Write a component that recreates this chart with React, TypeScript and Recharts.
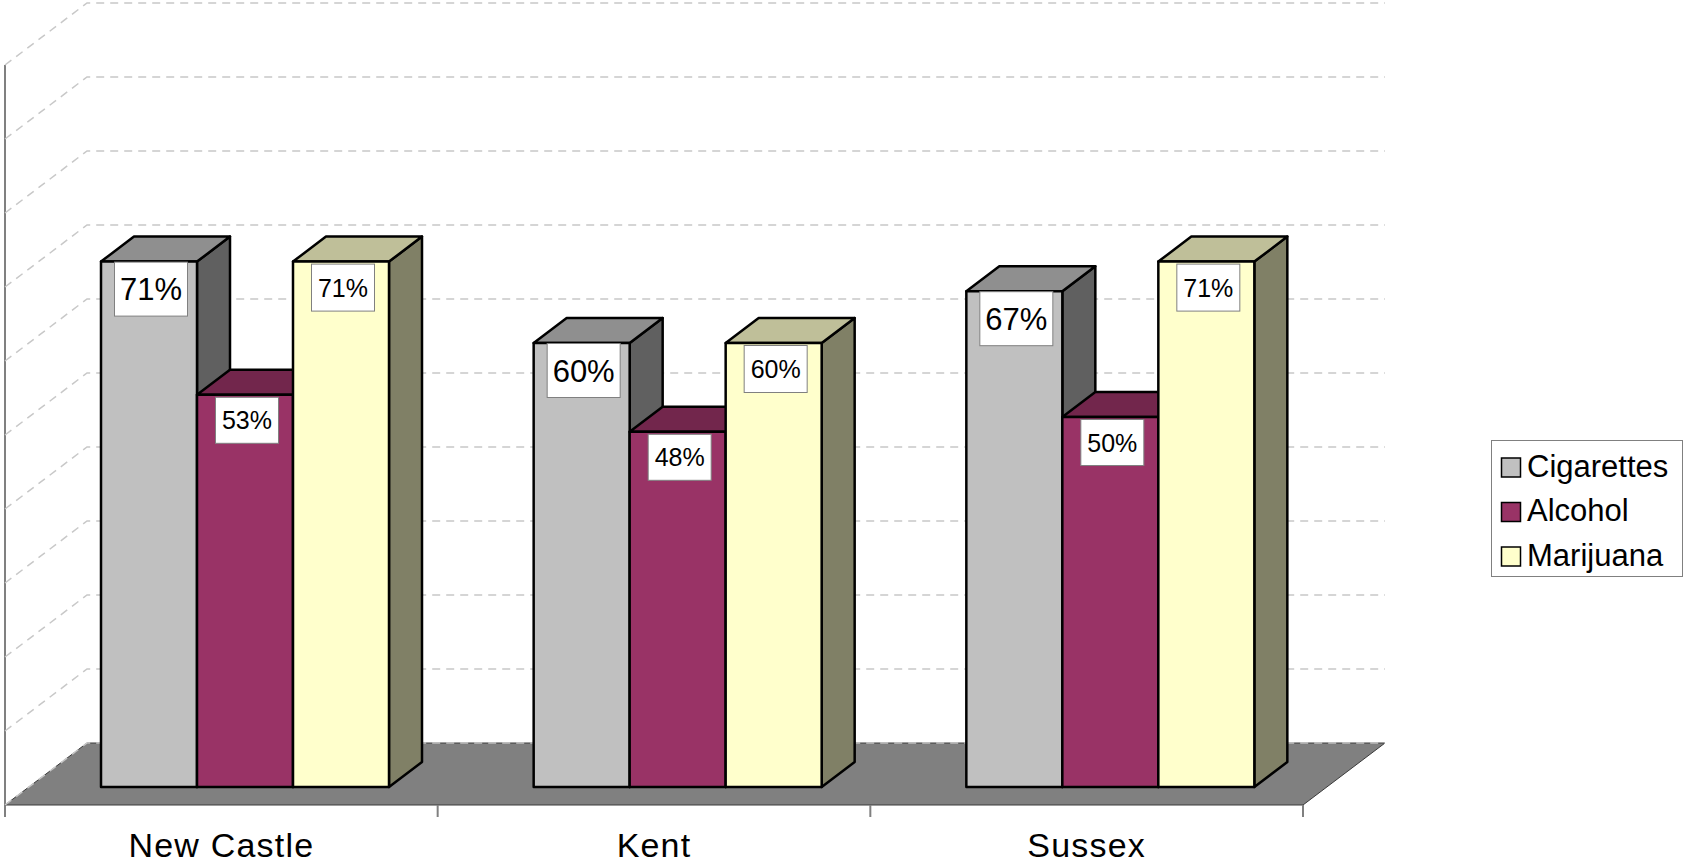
import { Bar, BarChart, CartesianGrid, LabelList, Legend, XAxis, YAxis } from 'recharts';

const categories = ['New Castle', 'Kent', 'Sussex'];
const cigarettes = [71, 60, 67];
const alcohol = [53, 48, 50];
const marijuana = [71, 60, 71];
const valueTicks = [0, 10, 20, 30, 40, 50, 60, 70, 80, 90, 100];

const data = categories.map((name, i) => ({
  name,
  cigarettes: cigarettes[i],
  alcohol: alcohol[i],
  marijuana: marijuana[i],
}));

const W = 1684;
const H = 868;
const MARGIN = { top: 47, right: 357, bottom: 0, left: 29 };
const AXIS_H = 81;
const PLOT_BOTTOM = H - AXIS_H;
const PLOT_RIGHT = W - MARGIN.right;
// floor depth, where the bar fronts sit inside it, and the depth of a bar
const FLOOR_DX = 82;
const FLOOR_DY = 62;
const FRONT_DX = 24;
const FRONT_DY = 18;
const BAR_DX = 33;
const BAR_DY = 25;
const FONT = '"Liberation Sans", Arial, sans-serif';

// back wall + left wall gridline for one value tick (floor drawn with the 0 line)
const wallLine = (props: any) => {
  const { x1, y1, index } = props;
  const fx = x1 - FRONT_DX;
  const fy = y1 + FRONT_DY;
  const bx = fx + FLOOR_DX;
  const by = fy - FLOOR_DY;
  const frontRight = PLOT_RIGHT - FRONT_DX;
  const backRight = frontRight + FLOOR_DX;
  const isFloor = Math.abs(y1 - PLOT_BOTTOM) < 0.5;
  return (
    <g key={`wall-${index}`}>
      {isFloor && (
        <>
          <polygon
            points={`${fx},${fy} ${bx},${by} ${backRight},${by} ${frontRight},${fy}`}
            fill="#808080"
            stroke="#3a3a3a"
            strokeWidth={1}
          />
          <line x1={fx} y1={MARGIN.top + FRONT_DY} x2={fx} y2={fy + 12} stroke="#808080" strokeWidth={2} />
        </>
      )}
      <polyline
        points={`${fx},${fy} ${bx},${by} ${backRight},${by}`}
        fill="none"
        stroke="#c8c8c8"
        strokeWidth={1.5}
        strokeDasharray="8 6"
      />
    </g>
  );
};

const CategoryTick = (props: any) => {
  const { x, payload, index } = props;
  const band = (PLOT_RIGHT - MARGIN.left) / categories.length;
  const cx = x - FRONT_DX;
  const floorY = PLOT_BOTTOM + FRONT_DY;
  return (
    <g>
      <line x1={cx - band / 2} y1={floorY} x2={cx - band / 2} y2={floorY + 12} stroke="#808080" strokeWidth={2} />
      {index === categories.length - 1 && (
        <line x1={cx + band / 2} y1={floorY} x2={cx + band / 2} y2={floorY + 12} stroke="#808080" strokeWidth={2} />
      )}
      <text
        x={cx}
        y={floorY + 52}
        textAnchor="middle"
        fontSize={34}
        letterSpacing={1.2}
        fontFamily={FONT}
        fill="#000"
      >
        {payload.value}
      </text>
    </g>
  );
};

const box3d = (top: string, side: string) => (props: any) => {
  const { x, y, width, height, fill } = props;
  if (!height) return <g />;
  const r = x + width;
  const b = y + height;
  return (
    <g stroke="#000" strokeWidth={2.5} strokeLinejoin="round">
      <polygon points={`${r},${y} ${r + BAR_DX},${y - BAR_DY} ${r + BAR_DX},${b - BAR_DY} ${r},${b}`} fill={side} />
      <polygon points={`${x},${y} ${x + BAR_DX},${y - BAR_DY} ${r + BAR_DX},${y - BAR_DY} ${r},${y}`} fill={top} />
      <rect x={x} y={y} width={width} height={height} fill={fill} />
    </g>
  );
};

const valueBox = (w: number, h: number, fontSize: number, gap: number) => (props: any) => {
  const { x, y, width, value } = props;
  const cx = x + width / 2 + 2;
  const top = y + gap;
  return (
    <g>
      <rect x={cx - w / 2} y={top} width={w} height={h} fill="#fff" stroke="#808080" strokeWidth={1} />
      <text
        x={cx}
        y={top + h / 2 + fontSize * 0.36}
        textAnchor="middle"
        fontSize={fontSize}
        fontFamily={FONT}
        fill="#000"
      >
        {`${value}%`}
      </text>
    </g>
  );
};

const series = [
  { key: 'cigarettes', name: 'Cigarettes', front: '#c0c0c0', top: '#8f8f8f', side: '#606060', label: valueBox(73, 54, 31, 0.5) },
  { key: 'alcohol', name: 'Alcohol', front: '#993366', top: '#72264c', side: '#4d1a33', label: valueBox(63, 46, 25, 2.5) },
  { key: 'marijuana', name: 'Marijuana', front: '#ffffcc', top: '#bfbf99', side: '#808066', label: valueBox(63, 47, 25, 2.5) },
];

// legend keeps the series order (Recharts would sort it by name)
const LegendBox = () => (
  <svg width={194} height={139} style={{ display: 'block', overflow: 'visible' }}>
    <rect x={0.5} y={0.5} width={191} height={136} fill="#fff" stroke="#808080" strokeWidth={1} />
    {series.map((s, i) => (
      <g key={s.key}>
        <rect x={10.5} y={18 + i * 44.5} width={19} height={19} fill={s.front} stroke="#000" strokeWidth={1.5} />
        <text x={36} y={36.5 + i * 44.5} fontSize={31} fontFamily={FONT} fill="#000">
          {s.name}
        </text>
      </g>
    ))}
  </svg>
);

export default function App() {
  return (
    <div style={{ position: 'absolute', left: 0, top: 0, width: W, height: H, background: '#fff' }}>
      <BarChart width={W} height={H} data={data} margin={MARGIN} barCategoryGap={72} barGap={0}>
        <CartesianGrid horizontal={wallLine} vertical={false} />
        <XAxis
          dataKey="name"
          height={AXIS_H}
          axisLine={false}
          tickLine={false}
          tick={<CategoryTick />}
          interval={0}
        />
        <YAxis hide type="number" domain={[0, 100]} ticks={valueTicks} />
        <Legend
          layout="horizontal"
          verticalAlign="middle"
          align="center"
          content={<LegendBox />}
          wrapperStyle={{ left: 1491, top: 440, width: 194, height: 139 }}
        />
        {series.map((s) => (
          <Bar
            key={s.key}
            dataKey={s.key}
            name={s.name}
            fill={s.front}
            shape={box3d(s.top, s.side)}
            isAnimationActive={false}
          >
            <LabelList dataKey={s.key} content={s.label} />
          </Bar>
        ))}
      </BarChart>
    </div>
  );
}
